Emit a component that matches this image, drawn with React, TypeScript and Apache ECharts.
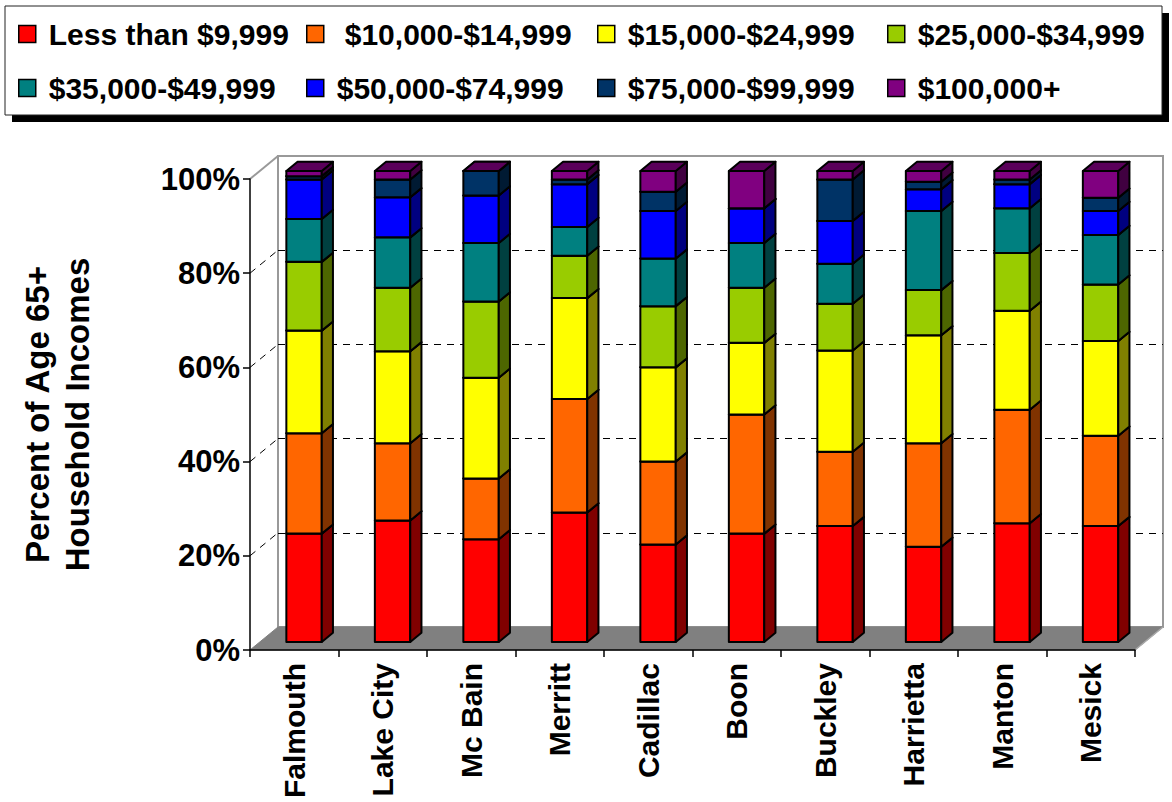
import React, { useEffect, useRef } from "react";
import * as echarts from "echarts";

// Towns along the horizontal axis
const categories = [
  "Falmouth", "Lake City", "Mc Bain", "Merritt", "Cadillac",
  "Boon", "Buckley", "Harrietta", "Manton", "Mesick",
];

// Income brackets (stack order, bottom to top)
const brackets = [
  "Less than $9,999", "$10,000-$14,999", "$15,000-$24,999", "$25,000-$34,999",
  "$35,000-$49,999", "$50,000-$74,999", "$75,000-$99,999", "$100,000+",
];

// Share of age 65+ households in each bracket (%), one value per town
const under10k = [23.0, 25.8, 21.8, 27.5, 20.7, 23.0, 24.6, 20.2, 25.2, 24.6];
const k10to15 = [21.3, 16.4, 12.9, 24.1, 17.6, 25.3, 15.8, 22.0, 24.1, 19.2];
const k15to25 = [21.8, 19.5, 21.4, 21.4, 20.0, 15.2, 21.5, 22.9, 21.0, 20.1];
const k25to35 = [14.6, 13.5, 16.2, 9.0, 13.0, 11.7, 9.9, 9.6, 12.3, 12.0];
const k35to50 = [9.1, 10.7, 12.4, 6.1, 10.1, 9.5, 8.5, 16.8, 9.5, 10.5];
const k50to75 = [8.4, 8.5, 10.1, 9.1, 10.1, 7.4, 9.1, 4.6, 5.1, 5.1];
const k75to100 = [0.7, 3.8, 5.2, 1.0, 4.1, 0.0, 8.8, 1.6, 1.0, 2.8];
const k100plus = [1.1, 1.8, 0.0, 1.8, 4.4, 7.9, 1.8, 2.3, 1.8, 5.7];

const bracketValues = [under10k, k10to15, k15to25, k25to35, k35to50, k50to75, k75to100, k100plus];

// Axis ticks
const yTicks = [0, 20, 40, 60, 80, 100];

// Face colours: front, side (shaded), top (lightly shaded)
const FRONT = ["#FF0000", "#FF6600", "#FFFF00", "#99CC00", "#008080", "#0000FF", "#003366", "#800080"];
const SIDE = ["#800000", "#803300", "#808000", "#4D6600", "#004040", "#000080", "#001A33", "#400040"];
const TOP = ["#B30000", "#B34700", "#B3B300", "#6B8F00", "#005A5A", "#0000B3", "#002447", "#5A005A"];

// Pseudo-3D geometry (pixels / fractions of the wall depth)
const DEPTH: [number, number] = [28, -23];
const BAR_FRONT = 0.35;
const BAR_BACK = 0.75;
const BAR_HALF = 0.2; // half bar width as a share of a category band

const FONT = "'Liberation Sans', Arial, sans-serif";

// Legend layout: column starts and row centres
const legendCols = [18, 306, 597, 887];
const legendRows = [34, 88];

function normalise(idx: number) {
  const total = bracketValues.reduce((s, arr) => s + arr[idx], 0);
  return bracketValues.map((arr) => (arr[idx] / total) * 100);
}

function buildStacks() {
  const shares = categories.map((_, i) => normalise(i));
  return bracketValues.map((_, s) =>
    categories.map((_, i) => {
      let lo = 0;
      for (let k = 0; k < s; k++) lo += shares[i][k];
      return [i, lo, lo + shares[i][s]];
    })
  );
}

function barRenderer(s: number) {
  return (params: any, api: any) => {
    const i = api.value(0);
    const lo = api.value(1);
    const hi = api.value(2);
    const b = api.coord([i, lo]);
    const t = api.coord([i, hi]);
    const hw = api.size([1, 0])[0] * BAR_HALF;
    const fx = DEPTH[0] * BAR_FRONT;
    const fy = DEPTH[1] * BAR_FRONT;
    const dx = DEPTH[0] * (BAR_BACK - BAR_FRONT);
    const dy = DEPTH[1] * (BAR_BACK - BAR_FRONT);
    const x0 = b[0] + fx - hw;
    const x1 = b[0] + fx + hw;
    const yb = b[1] + fy;
    const yt = t[1] + fy;
    const stroke = { stroke: "#000", lineWidth: 2, lineJoin: "round" };
    return {
      type: "group",
      children: [
        {
          type: "polygon",
          shape: { points: [[x0, yt], [x1, yt], [x1, yb], [x0, yb]] },
          style: { fill: FRONT[s], ...stroke },
        },
        {
          type: "polygon",
          shape: { points: [[x1, yt], [x1 + dx, yt + dy], [x1 + dx, yb + dy], [x1, yb]] },
          style: { fill: SIDE[s], ...stroke },
        },
        {
          type: "polygon",
          shape: { points: [[x0, yt], [x0 + dx, yt + dy], [x1 + dx, yt + dy], [x1, yt]] },
          style: { fill: TOP[s], ...stroke },
        },
      ],
    };
  };
}

// Floor, side wall edge and the diagonal gridlines on the side wall
function frameRenderer(params: any, api: any) {
  const cs = params.coordSys;
  const L = cs.x;
  const R = cs.x + cs.width;
  const T = cs.y;
  const B = cs.y + cs.height;
  const [Dx, Dy] = DEPTH;
  const children: any[] = [
    {
      type: "polygon",
      shape: { points: [[L, B], [R, B], [R + Dx, B + Dy], [L + Dx, B + Dy]] },
      style: { fill: "#808080", stroke: "#808080", lineWidth: 1 },
    },
    {
      type: "line",
      shape: { x1: L, y1: T, x2: L + Dx, y2: T + Dy },
      style: { stroke: "#999999", lineWidth: 2 },
    },
    {
      type: "line",
      shape: { x1: R, y1: B, x2: R + Dx, y2: B + Dy },
      style: { stroke: "#AAAAAA", lineWidth: 1.5 },
    },
  ];
  yTicks
    .filter((v) => v > 0 && v < 100)
    .forEach((v) => {
      const y = api.coord([0, v])[1];
      children.push({
        type: "line",
        shape: { x1: L, y1: y, x2: L + Dx, y2: y + Dy },
        style: { stroke: "#000", lineWidth: 1, lineDash: [7, 6] },
      });
    });
  return { type: "group", children };
}

export default function App() {
  const ref = useRef<HTMLDivElement>(null);

  useEffect(() => {
    if (!ref.current) return;
    const chart = echarts.init(ref.current, null, { renderer: "svg" });
    const stacks = buildStacks();

    const legends = brackets.map((name, k) => ({
      data: [name],
      left: legendCols[k % 4],
      top: legendRows[Math.floor(k / 4)] - 18,
      padding: 0,
      itemWidth: 17,
      itemHeight: 17,
      icon: "rect",
      z: 10,
      selectedMode: false,
      itemStyle: { borderColor: "#000", borderWidth: 1.5 },
      textStyle: {
        fontFamily: FONT,
        fontSize: 30,
        fontWeight: "bold",
        color: "#000",
        lineHeight: 36,
        padding: [0, 0, 0, k === 1 ? 16 : 8],
      },
    }));

    const option: any = {
      animation: false,
      backgroundColor: "#fff",
      textStyle: { fontFamily: FONT },
      legend: legends,
      graphic: [
        // legend frame with drop shadow
        { type: "rect", z: 1, shape: { x: 12, y: 13, width: 1157, height: 109 }, style: { fill: "#000" } },
        {
          type: "rect",
          z: 2,
          shape: { x: 5, y: 6, width: 1157, height: 109 },
          style: { fill: "#fff", stroke: "#222", lineWidth: 1 },
        },
      ],
      grid: [
        { left: 250, top: 179, width: 885, height: 471, containLabel: false },
        {
          left: 250 + DEPTH[0],
          top: 179 + DEPTH[1],
          width: 885,
          height: 471,
          show: true,
          backgroundColor: "#fff",
          borderColor: "#999999",
          borderWidth: 2,
        },
      ],
      xAxis: [
        {
          type: "category",
          gridIndex: 0,
          data: categories,
          z: 6,
          axisLine: { lineStyle: { color: "#000", width: 1.5 } },
          axisTick: { show: true, length: 7, interval: 0, lineStyle: { color: "#000", width: 1.5 } },
          axisLabel: {
            interval: 0,
            rotate: 90,
            margin: 13,
            color: "#000",
            fontFamily: FONT,
            fontSize: 30,
            fontWeight: "bold",
          },
          splitLine: { show: false },
        },
        { type: "category", gridIndex: 1, data: categories, show: false },
      ],
      yAxis: [
        {
          type: "value",
          gridIndex: 0,
          min: 0,
          max: 100,
          interval: 20,
          z: 6,
          name: "Percent of Age 65+\nHousehold Incomes",
          nameLocation: "middle",
          nameRotate: 90,
          nameGap: 153,
          nameTextStyle: {
            fontFamily: FONT,
            fontSize: 33,
            fontWeight: "bold",
            color: "#000",
            lineHeight: 40,
          },
          axisLine: { show: true, lineStyle: { color: "#000", width: 1.5 } },
          axisTick: { show: true, length: 7, lineStyle: { color: "#000", width: 1.5 } },
          axisLabel: {
            margin: 10,
            color: "#000",
            fontFamily: FONT,
            fontSize: 31,
            fontWeight: "bold",
            formatter: "{value}%",
          },
          splitLine: { show: false },
        },
        {
          type: "value",
          gridIndex: 1,
          min: 0,
          max: 100,
          interval: 20,
          axisLine: { show: false },
          axisTick: { show: false },
          axisLabel: { show: false },
          splitLine: {
            show: true,
            showMinLine: false,
            showMaxLine: false,
            lineStyle: { color: "#000", width: 1, type: [7, 6] },
          },
        },
      ],
      series: [
        {
          type: "custom",
          name: "frame",
          xAxisIndex: 0,
          yAxisIndex: 0,
          z: 1,
          silent: true,
          renderItem: frameRenderer,
          data: [[0, 0]],
          encode: { x: 0, y: 1 },
        },
        ...brackets.map((name, s) => ({
          type: "custom",
          name,
          xAxisIndex: 0,
          yAxisIndex: 0,
          z: 3,
          itemStyle: { color: FRONT[s] },
          renderItem: barRenderer(s),
          encode: { x: 0, y: [1, 2] },
          data: stacks[s],
        })),
      ],
    };

    chart.setOption(option);
    return () => chart.dispose();
  }, []);

  return (
    <div
      ref={ref}
      style={{ position: "absolute", left: 0, top: 0, width: 1172, height: 802 }}
    />
  );
}
